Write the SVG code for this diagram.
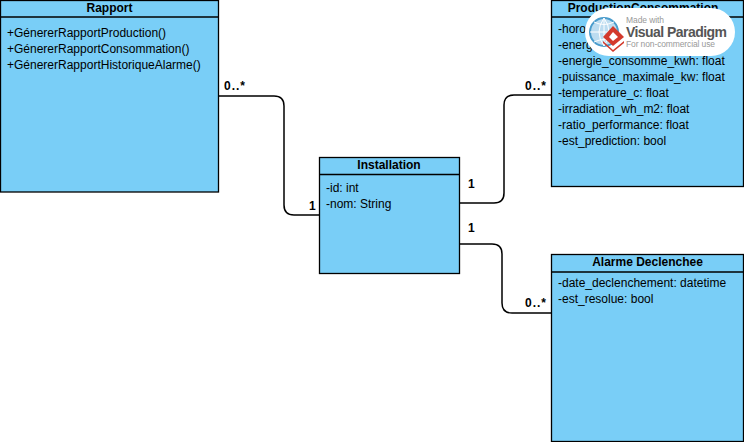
<svg xmlns="http://www.w3.org/2000/svg" width="744" height="442" viewBox="0 0 744 442">
<style>
text{font-family:"Liberation Sans",Arial,sans-serif;font-size:12px;fill:#000}
.box{fill:#79CEF7;stroke:#000;stroke-width:1.3}
.sep{stroke:#000;stroke-width:1.3;fill:none}
.title{font-weight:bold;text-anchor:middle}
.mult{font-weight:bold}
.conn{fill:none;stroke:#000;stroke-width:1.5}
</style>
<rect width="744" height="442" fill="#fff"/>
<g id="connectors">
<path class="conn" d="M218.500 96H274Q284 96 284 106V205Q284 215 294 215H319.500"/>
<path class="conn" d="M459 203H494Q504 203 504 193V105Q504 95 514 95H551.500"/>
<path class="conn" d="M459.500 244H492Q502 244 502 254V303Q502 313 512 313H552"/>
</g>
<g id="rapport">
<rect class="box" x="0.500" y="0.500" width="218" height="191.500"/>
<path class="sep" d="M0.500 17H218.500"/>
<text class="title" x="109.500" y="12">Rapport</text>
<text x="7" y="37">+GénererRapportProduction()</text>
<text x="7" y="53">+GénererRapportConsommation()</text>
<text x="7" y="69">+GénererRapportHistoriqueAlarme()</text>
</g>
<g id="installation">
<rect class="box" x="319.500" y="157.500" width="140" height="116"/>
<path class="sep" d="M319.500 174.500H459.500"/>
<text class="title" x="389" y="169">Installation</text>
<text x="326" y="192">-id: int</text>
<text x="326" y="208">-nom: String</text>
</g>
<g id="productionconsommation">
<rect class="box" x="551.500" y="0.500" width="192" height="186"/>
<path class="sep" d="M551.500 17H743.500"/>
<text class="title" x="643" y="12">ProductionConsommation</text>
<text x="558" y="33">-horo</text>
<text x="558" y="49">-energ</text>
<text x="558" y="65">-energie_consomme_kwh: float</text>
<text x="558" y="81">-puissance_maximale_kw: float</text>
<text x="558" y="97">-temperature_c: float</text>
<text x="558" y="113">-irradiation_wh_m2: float</text>
<text x="558" y="129">-ratio_performance: float</text>
<text x="558" y="145">-est_prediction: bool</text>
</g>
<g id="alarme">
<rect class="box" x="551.500" y="254.500" width="192" height="187"/>
<path class="sep" d="M551.500 272H743.500"/>
<text class="title" x="647.500" y="266">Alarme Declenchee</text>
<text x="558" y="287">-date_declenchement: datetime</text>
<text x="558" y="303">-est_resolue: bool</text>
</g>
<g id="labels">
<text class="mult" x="224" y="90" textLength="21">0..*</text>
<text class="mult" x="309" y="210">1</text>
<text class="mult" x="468" y="188">1</text>
<text class="mult" x="525" y="90" textLength="21">0..*</text>
<text class="mult" x="468" y="232">1</text>
<text class="mult" x="525" y="307" textLength="21">0..*</text>
</g>
<g id="watermark">
<rect x="585" y="8" width="150" height="48" rx="24" fill="#fff"/>
<circle cx="604" cy="32" r="14" fill="#bcdcf0" stroke="#4a9ccc" stroke-width="2"/>
<path d="M590 32H618M604 18V46M594 22Q604 27 614 22M594 42Q604 37 614 42M604 18Q594 32 604 46M604 18Q614 32 604 46" fill="none" stroke="#fff" stroke-width="1"/>
<path d="M613 26L624 37L613 46L603 37Z" fill="#d33a2c"/>
<path d="M613 32L618 37L613 41L609 37Z" fill="#fff"/>
<path d="M603 41L613 50L624 41L624 43L613 52L603 43Z" fill="#d33a2c"/>
<text x="626" y="23" style="font-size:8.500px;fill:#999" textLength="38">Made with</text>
<text x="626" y="37" style="font-size:14px;font-weight:bold;fill:#555" textLength="101">Visual Paradigm</text>
<text x="626" y="47" style="font-size:8.500px;fill:#999" textLength="89">For non-commercial use</text>
</g>
</svg>
